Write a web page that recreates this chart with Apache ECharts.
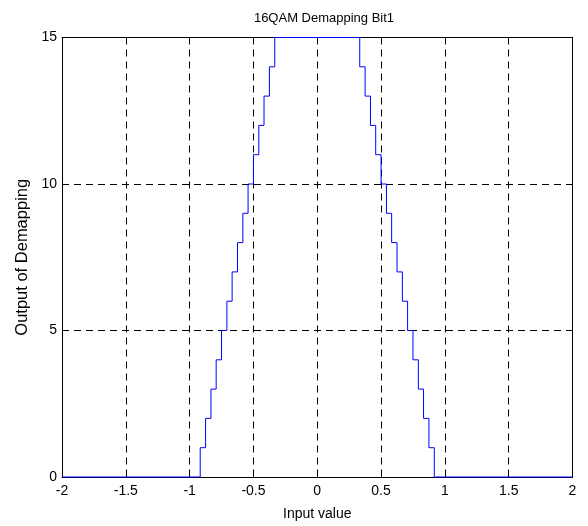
<!DOCTYPE html>
<html>
<head>
<meta charset="utf-8">
<script src="https://cdn.jsdelivr.net/npm/echarts@6/dist/echarts.min.js"></script>
<style>
  html, body { margin: 0; padding: 0; background: #fff; }
  #chart { width: 588px; height: 526px; }
</style>
</head>
<body>
<div id="chart"></div>
<script>
// Quantized demapper output for bit 1: each entry marks where the output steps to a new level
var stepX = [-2, -0.917, -0.875, -0.833, -0.792, -0.750, -0.708, -0.667, -0.625, -0.583,
             -0.542, -0.500, -0.458, -0.417, -0.375, -0.333,
             0.333, 0.375, 0.417, 0.458, 0.500, 0.542, 0.583, 0.625, 0.667, 0.708,
             0.750, 0.792, 0.833, 0.875, 0.917, 2];
var stepY = [0, 1, 2, 3, 4, 5, 6, 7, 8, 9,
             10, 11, 12, 13, 14, 15,
             14, 13, 12, 11, 10, 9, 8, 7, 6, 5,
             4, 3, 2, 1, 0, 0];

var xTicks = [-2, -1.5, -1, -0.5, 0, 0.5, 1, 1.5, 2];
var yTicks = [0, 5, 10, 15];

var chartTitle = '16QAM Demapping Bit1';
var xName = 'Input value';
var yName = 'Output of Demapping';

var points = stepX.map(function (x, i) { return [x, stepY[i]]; });

var FONT = '"Liberation Sans", Arial, Helvetica, sans-serif';
var dashed = { show: true, lineStyle: { color: '#000', type: [7, 5], width: 1 } };
var boxLine = { show: true, onZero: false, lineStyle: { color: '#000', width: 1 } };
var inTick = { show: true, inside: true, length: 5, lineStyle: { color: '#000' } };

var chart = echarts.init(document.getElementById('chart'), null, { renderer: 'canvas' });
chart.setOption({
  animation: false,
  backgroundColor: '#fff',
  title: {
    text: chartTitle,
    left: 319,
    top: 7,
    textAlign: 'center',
    textStyle: { fontFamily: FONT, fontSize: 13, fontWeight: 'normal', color: '#000' }
  },
  grid: { left: 62, right: 15.5, top: 37.5, bottom: 47.5, containLabel: false },
  xAxis: [{
    type: 'value',
    min: xTicks[0], max: xTicks[xTicks.length - 1], interval: 0.5,
    name: xName, nameLocation: 'middle', nameGap: 30,
    nameTextStyle: { fontFamily: FONT, fontSize: 14, color: '#000' },
    axisLine: boxLine,
    axisTick: inTick,
    axisLabel: { fontFamily: FONT, fontSize: 14, color: '#000', margin: 7 },
    splitLine: dashed
  }, {
    type: 'value', position: 'top',
    min: xTicks[0], max: xTicks[xTicks.length - 1], interval: 0.5,
    axisLine: boxLine,
    axisTick: inTick,
    axisLabel: { show: false },
    splitLine: { show: false }
  }],
  yAxis: [{
    type: 'value',
    min: yTicks[0], max: yTicks[yTicks.length - 1], interval: 5,
    name: yName, nameLocation: 'middle', nameGap: 27, nameRotate: 90,
    nameTextStyle: { fontFamily: FONT, fontSize: 16.5, color: '#000' },
    axisLine: boxLine,
    axisTick: inTick,
    axisLabel: { fontFamily: FONT, fontSize: 14, color: '#000', margin: 5 },
    splitLine: dashed
  }, {
    type: 'value', position: 'right',
    min: yTicks[0], max: yTicks[yTicks.length - 1], interval: 5,
    axisLine: boxLine,
    axisTick: inTick,
    axisLabel: { show: false },
    splitLine: { show: false }
  }],
  series: [{
    type: 'line',
    data: points,
    step: 'end',
    showSymbol: false,
    clip: false,
    z: 5,
    lineStyle: { color: '#0000ff', width: 1 }
  }]
});
</script>
</body>
</html>
